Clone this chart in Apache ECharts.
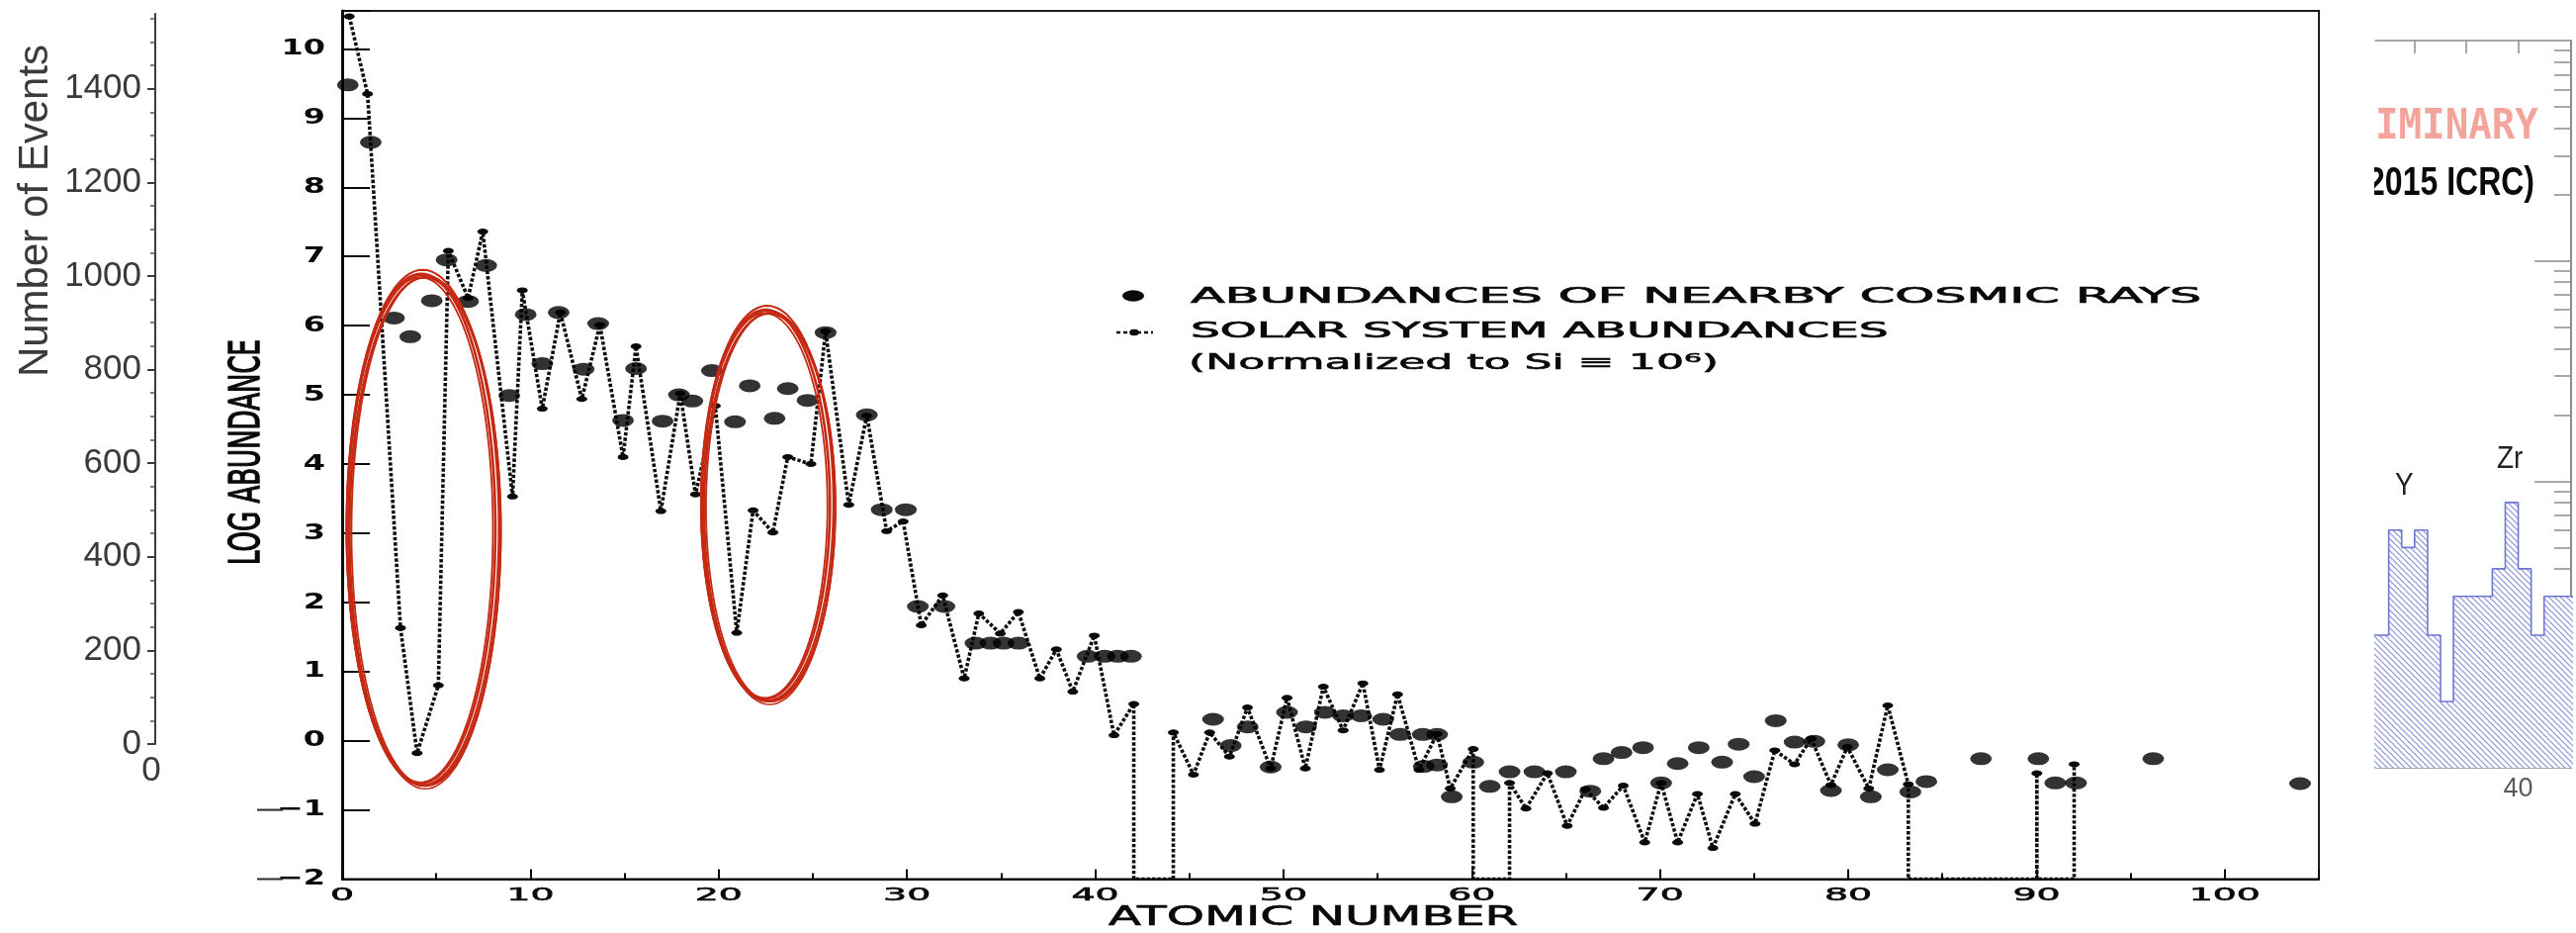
<!DOCTYPE html>
<html>
<head>
<meta charset="utf-8">
<title>Log abundance vs atomic number</title>
<script src="https://cdn.jsdelivr.net/npm/echarts@6/dist/echarts.min.js"></script>
<style>
  html, body { margin: 0; padding: 0; background: #ffffff; }
  #chart { width: 2605px; height: 943px; }
</style>
</head>
<body>
<div id="chart"></div>
<script>
// ---- Solar system abundances (log10, normalized to Si = 10^6), Z = 1..92; null = not plotted
const solarZ = [
  0.38, 1.35, 3.10, 3.98, 5.11, 5.64, 6.69, 7.47, 9.05, 9.57,
  10.63, 11.59, 12.73, 13.69, 14.92, 15.61, 16.93, 17.96, 18.77, 19.82,
  20.96, 21.83, 22.88, 23.67, 24.90, 25.68, 26.91, 27.87, 28.92, 29.80,
  30.76, 31.90, 33.04, 33.82, 34.96, 35.92, 37.06, 37.94, 38.81, 39.95,
  41.00, 42.05, null, 44.15, 45.22, 46.08, 47.13, 48.09, 49.32, 50.19,
  51.16, 52.12, 53.17, 54.22, 55.10, 56.06, 57.20, 58.16, 58.86, 60.08,
  null, 62.01, 62.88, 64.02, 65.07, 66.04, 67.00, 68.05, 69.19, 70.06,
  70.94, 71.99, 72.81, 74.00, 75.05, 76.10, 77.15, 78.03, 79.08, 79.95,
  81.09, 82.10, 83.19, null, null, null, null, null, null, 90.02,
  null, 92.00
];
const solarLog = [
  10.47, 9.35, 1.63, -0.18, 0.80, 7.08, 6.40, 7.36, 3.53, 6.51,
  4.80, 6.19, 4.94, 6.01, 4.10, 5.70, 3.32, 5.02, 3.56, 4.84,
  1.56, 3.33, 3.01, 4.10, 4.00, 5.92, 3.41, 4.70, 3.03, 3.17,
  1.67, 2.10, 0.90, 1.84, 1.55, 1.86, 0.90, 1.32, 0.71, 1.52,
  0.08, 0.53, null, 0.12, -0.49, 0.12, -0.23, 0.48, -0.40, 0.62,
  -0.40, 0.78, 0.15, 0.83, -0.42, 0.67, -0.42, 0.10, -0.69, -0.12,
  null, -0.61, -0.98, -0.47, -1.23, -0.70, -0.97, -0.65, -1.47, -0.61,
  -1.47, -0.77, -1.55, -0.77, -1.20, -0.14, -0.34, 0.03, -0.64, -0.09,
  -0.69, 0.51, -0.63, null, null, null, null, null, null, -0.47,
  null, -0.34
];

// ---- Abundances of nearby cosmic rays (log10)
const cosmicZ = [
  0.30, 1.52, 2.75, 3.62, 4.76, 5.55, 6.69, 7.65, 8.88, 9.75,
  10.63, 11.50, 12.82, 13.60, 14.92, 15.61, 17.02, 17.89, 18.60, 19.64,
  20.87, 21.65, 22.97, 23.67, 24.72, 25.68, 27.87, 28.66, 29.94, 30.58,
  31.99, 33.64, 34.44, 35.13, 35.92, 39.60, 40.50, 41.20, 41.90, 46.26,
  47.20, 48.10, 49.32, 50.19, 51.20, 52.20, 53.17, 54.13, 55.30, 56.20,
  57.40, 58.16, 57.45, 58.16, 58.94, 60.08, 60.96, 62.01, 63.33, 65.00,
  66.30, 67.00, 67.96, 69.10, 70.06, 70.94, 72.06, 73.30, 74.18, 75.00,
  76.15, 77.15, 78.20, 79.08, 80.00, 81.20, 82.10, 83.30, 84.15, 87.05,
  90.10, 91.00, 92.10, 96.20, 104.00
];
const cosmicLog = [
  9.48, 8.65, 6.11, 5.84, 6.36, 6.95, 6.35, 6.87, 4.99, 6.16,
  5.45, 6.19, 5.37, 6.03, 4.63, 5.38, 4.62, 5.00, 4.91, 5.35,
  4.61, 5.13, 4.66, 5.09, 4.92, 5.90, 4.71, 3.34, 3.34, 1.94,
  1.94, 1.41, 1.41, 1.41, 1.41, 1.22, 1.22, 1.22, 1.22, 0.31,
  -0.07, 0.20, -0.38, 0.41, 0.20, 0.41, 0.36, 0.36, 0.31, 0.09,
  0.09, 0.09, -0.37, -0.35, -0.81, -0.31, -0.66, -0.45, -0.45, -0.45,
  -0.73, -0.26, -0.17, -0.10, -0.61, -0.33, -0.10, -0.31, -0.05, -0.52,
  0.29, -0.02, -0.01, -0.72, -0.06, -0.81, -0.42, -0.74, -0.59, -0.26,
  -0.26, -0.61, -0.61, -0.26, -0.62
];

// ---- Hand-drawn rings: centre (Z, log), half width (Z), half height (log)
const ringZ = [4.2, 22.5];
const ringLog = [3.07, 3.42];
const ringHalfZ = [3.94, 3.41];
const ringHalfLog = [3.68, 2.81];

// ---- Axis tick labels
const zTicks = [0, 10, 20, 30, 40, 50, 60, 70, 80, 90, 100];
const zTickLabels = ['0', '10', '20', '30', '40', '50', '60', '70', '80', '90', '100'];
const logTicks = [-2, -1, 0, 1, 2, 3, 4, 5, 6, 7, 8, 9, 10];
const logTickLabels = ['\u22122', '\u22121', '0', '1', '2', '3', '4', '5', '6', '7', '8', '9', '10'];

// ---- Event-count axis (left panel)
const eventMajorTicks = [0, 200, 400, 600, 800, 1000, 1200, 1400];
const eventMinorTicks = [50, 100, 150, 250, 300, 350, 450, 500, 550, 650, 700, 750, 850, 900, 950,
  1050, 1100, 1150, 1250, 1300, 1350, 1450, 1500, 1550];

// ---- Charge histogram (right panel): bin starts and counts
const binStart = [37.0, 37.25, 37.5, 37.75, 38.0, 38.25, 38.5, 38.75, 39.0, 39.25, 39.5, 39.75, 40.0, 40.25, 40.5, 40.75, 41.0];
const binCount = [20, 20, 60, 50, 60, 20, 10, 30, 30, 30, 40, 80, 40, 20, 30, 30, 30];
const histMajorTicks = [10, 100, 1000];
const histMinorTicks = [6, 7, 8, 9, 20, 30, 40, 50, 60, 70, 80, 90, 200, 300, 400, 500, 600, 700, 800, 900,
  2000, 3000, 4000, 5000, 6000, 7000, 8000, 9000];
const histChargeTicks = [38, 39, 40];
const histChargeLabels = [40];
const peakNames = ['Y', 'Zr'];
const peakCharge = [37.8, 39.84];
const peakCount = [95, 126];

// ---------------------------------------------------------------
const LOG_MIN = -2;
const INK = '#0a0a0a';

// solar curve: missing elements drop to the bottom of the axis
const solarLine = [];
let lastZ = null;
let inGap = false;
for (let i = 0; i < solarZ.length; i++) {
  if (solarLog[i] === null) {
    if (!inGap && lastZ !== null) {
      solarLine.push({ value: [lastZ, LOG_MIN], symbol: 'none' });
    }
    inGap = true;
    continue;
  }
  if (inGap) {
    solarLine.push({ value: [solarZ[i], LOG_MIN], symbol: 'none' });
    inGap = false;
  }
  solarLine.push({ value: [solarZ[i], solarLog[i]] });
  lastZ = solarZ[i];
}

const cosmicData = cosmicZ.map((z, i) => [z, cosmicLog[i]]);
const ringData = ringZ.map((z, i) => [z, ringLog[i], ringHalfZ[i], ringHalfLog[i]]);

const histData = binStart.map((x, i) => [x, Math.log10(binCount[i])]);
histData.push([binStart[binStart.length - 1] + 0.25, Math.log10(binCount[binCount.length - 1])]);

function hatchPattern() {
  const n = 6;
  const cv = document.createElement('canvas');
  cv.width = n; cv.height = n;
  const c = cv.getContext('2d');
  c.fillStyle = '#ffffff';
  c.fillRect(0, 0, n, n);
  c.strokeStyle = '#8a93da';
  c.lineWidth = 1.2;
  c.beginPath();
  c.moveTo(-1, -1); c.lineTo(n + 1, n + 1);
  c.moveTo(-1, n - 1); c.lineTo(1, n + 1);
  c.moveTo(n - 1, -1); c.lineTo(n + 1, 1);
  c.stroke();
  return cv;
}

// several slightly offset strokes give the hand-drawn look
function ringItem(params, api) {
  const c = api.coord([api.value(0), api.value(1)]);
  const s = api.size([api.value(2), api.value(3)]);
  const passes = [
    [0, 0, 0, 0, 2.6],
    [1.5, -1, 2, 3, 2.0],
    [-1, 1.5, -1.5, -2, 1.8],
    [2.5, 2, 3, 1, 2.0],
    [3.5, 3, 1.5, -1, 2.0],
    [5, 3, 0.5, 0, 1.8],
    [4, 4.5, 1, 1.5, 1.6]
  ];
  const children = passes.map(p => {
    const pts = [];
    for (let k = 0; k <= 120; k++) {
      const t = k / 120 * Math.PI * 2;
      pts.push([c[0] + p[0] + (s[0] + p[2]) * Math.cos(t), c[1] + p[1] + (s[1] + p[3]) * Math.sin(t)]);
    }
    return { type: 'polyline', shape: { points: pts }, style: { stroke: '#c52a14', lineWidth: p[4], fill: null } };
  });
  return { type: 'group', children: children };
}

const HIST_GRAY = '#8c8c8c';

const option = {
  animation: false,
  backgroundColor: '#ffffff',
  grid: [
    { left: 157, top: 14, width: 1, bottom: 191 },
    { left: 346, right: 260, top: 11, bottom: 54.5, show: true, borderColor: '#1e1e1e', borderWidth: 2, backgroundColor: 'transparent' },
    { left: 2402, right: 5, top: 41, bottom: 167 }
  ],
  xAxis: [
    { gridIndex: 0, type: 'value', show: false, min: 0, max: 1 },
    {
      gridIndex: 1, type: 'value', min: 0, max: 105, interval: 10, z: 3,
      axisLine: { onZero: false, lineStyle: { color: INK, width: 2 } },
      axisTick: { inside: true, length: 10, lineStyle: { color: INK, width: 2 } },
      minorTick: { show: true, splitNumber: 2, length: 6, lineStyle: { color: INK, width: 2 } },
      axisLabel: { show: false }, splitLine: { show: false }
    },
    {
      gridIndex: 2, type: 'value', min: 37.24, max: 41.02, position: 'bottom',
      axisLine: { onZero: false, lineStyle: { color: HIST_GRAY, width: 1.5 } },
      axisTick: { inside: true, length: 13, customValues: histChargeTicks, lineStyle: { color: HIST_GRAY, width: 1.5 } },
      axisLabel: { customValues: histChargeLabels, fontSize: 27, fontFamily: 'Liberation Sans', color: '#5a5a5a', margin: 8 },
      splitLine: { show: false }
    },
    {
      gridIndex: 2, type: 'value', min: 37.24, max: 41.02, position: 'top',
      axisLine: { onZero: false, lineStyle: { color: HIST_GRAY, width: 1.5 } },
      axisTick: { inside: true, length: 13, customValues: histChargeTicks, lineStyle: { color: HIST_GRAY, width: 1.5 } },
      axisLabel: { show: false }, splitLine: { show: false }
    }
  ],
  yAxis: [
    {
      gridIndex: 0, type: 'value', min: 0, max: 1560, position: 'left',
      axisLine: { show: true, lineStyle: { color: '#3c3c3c', width: 2 } },
      axisTick: { show: true, inside: false, length: 8, customValues: eventMajorTicks, lineStyle: { color: '#3c3c3c', width: 2 } },
      axisLabel: {
        customValues: eventMajorTicks, fontSize: 35, fontFamily: 'Liberation Sans', color: '#3a3a3a', margin: 14,
        formatter: v => String(v)
      },
      splitLine: { show: false }
    },
    {
      gridIndex: 0, type: 'value', min: 0, max: 1560, position: 'left', offset: 0,
      axisLine: { show: false },
      axisTick: { show: true, inside: false, length: 5, customValues: eventMinorTicks, lineStyle: { color: '#555555', width: 1.5 } },
      axisLabel: { show: false }, splitLine: { show: false }
    },
    {
      gridIndex: 1, type: 'value', min: LOG_MIN, max: 10.55, interval: 1, z: 3,
      axisLine: { onZero: false, lineStyle: { color: INK, width: 3 } },
      axisTick: { inside: true, length: 28, lineStyle: { color: INK, width: 2 } },
      axisLabel: { show: false }, splitLine: { show: false }
    },
    {
      gridIndex: 2, type: 'value', min: Math.log10(5), max: 4, position: 'right',
      axisLine: { show: true, onZero: false, lineStyle: { color: HIST_GRAY, width: 2 } },
      axisTick: { inside: true, length: 37, customValues: histMajorTicks.map(Math.log10), lineStyle: { color: HIST_GRAY, width: 1.5 } },
      axisLabel: { show: false }, splitLine: { show: false }
    },
    {
      gridIndex: 2, type: 'value', min: Math.log10(5), max: 4, position: 'right', offset: 0,
      axisLine: { show: false },
      axisTick: { inside: true, length: 17, customValues: histMinorTicks.map(Math.log10), lineStyle: { color: HIST_GRAY, width: 1.5 } },
      axisLabel: { show: false }, splitLine: { show: false }
    }
  ],
  series: [
    {
      name: 'SOLAR SYSTEM ABUNDANCES', type: 'line', xAxisIndex: 1, yAxisIndex: 2, z: 4,
      data: solarLine, symbol: 'circle', symbolSize: [11, 6],
      itemStyle: { color: INK },
      lineStyle: { color: '#0d0d0d', width: 3.6, type: [3.4, 2.0] }
    },
    {
      name: 'ABUNDANCES OF NEARBY COSMIC RAYS', type: 'scatter', xAxisIndex: 1, yAxisIndex: 2, z: 5,
      data: cosmicData, symbol: 'circle', symbolSize: [22, 13],
      itemStyle: { color: '#000000' }
    },
    {
      type: 'custom', xAxisIndex: 1, yAxisIndex: 2, z: 6, clip: false,
      data: ringData, renderItem: ringItem
    },
    {
      type: 'line', xAxisIndex: 2, yAxisIndex: 3, z: 3,
      data: histData, step: 'end', symbol: 'none',
      lineStyle: { color: '#6d76d2', width: 1.6 },
      areaStyle: { color: { image: hatchPattern(), repeat: 'repeat' }, origin: 'start', opacity: 1 }
    }
  ]
};

const chart = echarts.init(document.getElementById('chart'), null, { renderer: 'canvas' });
chart.setOption(option);

// ---- Text drawn on top, placed through the chart's own axes
const gfx = [];
function txt(x, y, text, o) {
  const style = {
    text: text, fontSize: o.size, fontFamily: o.family || 'DejaVu Sans',
    fontWeight: o.weight || 'normal', fill: o.fill || INK,
    align: o.align || 'left', verticalAlign: 'middle'
  };
  if (o.heavy) { style.stroke = o.fill || INK; style.lineWidth = o.heavy; }
  gfx.push({
    type: 'text', x: x, y: y, z: o.z || 10,
    scaleX: o.scaleX || 1, scaleY: o.scaleY || 1, rotation: o.rotation || 0,
    style: style
  });
}

zTicks.forEach((v, i) => {
  const p = chart.convertToPixel({ gridIndex: 1 }, [v, LOG_MIN]);
  txt(p[0], p[1] + 17, zTickLabels[i], { size: 18, scaleX: 2.1, align: 'center', heavy: 0.6 });
});
logTicks.forEach((v, i) => {
  const p = chart.convertToPixel({ gridIndex: 1 }, [0, v]);
  txt(p[0] - 17, p[1], logTickLabels[i], { size: 22, weight: 'bold', scaleX: 1.45, align: 'right' });
  if (v < 0) {
    gfx.push({ type: 'line', z: 10, shape: { x1: p[0] - 86, y1: p[1], x2: p[0] - 60, y2: p[1] }, style: { stroke: '#2a2a2a', lineWidth: 2 } });
  }
});

// axis titles
txt(1328, 928, 'ATOMIC NUMBER', { size: 27, scaleX: 1.8, align: 'center', heavy: 0.6 });
txt(251, 457, 'LOG ABUNDANCE', { size: 26, scaleY: 1.65, rotation: Math.PI / 2, align: 'center', heavy: 0.9 });
txt(36, 213, 'Number of Events', { size: 42, family: 'Liberation Sans', fill: '#3b3b3b', rotation: Math.PI / 2, align: 'center' });

// clipped "0" under the event axis
txt(153, 779, '0', { size: 35, family: 'Liberation Sans', fill: '#3b3b3b', align: 'center', z: 0 });
gfx.push({ type: 'rect', z: 1, shape: { x: 158, y: 758, width: 22, height: 44 }, style: { fill: '#ffffff' } });

// legend
gfx.push({ type: 'circle', x: 1146, y: 299, scaleX: 1.9, z: 10, shape: { cx: 0, cy: 0, r: 5.8 }, style: { fill: INK } });
gfx.push({ type: 'line', z: 10, shape: { x1: 1129, y1: 336, x2: 1166, y2: 336 }, style: { stroke: INK, lineWidth: 2.6, lineDash: [4, 3] } });
gfx.push({ type: 'circle', x: 1147, y: 336, scaleX: 1.5, z: 10, shape: { cx: 0, cy: 0, r: 3.2 }, style: { fill: INK } });
txt(1204, 301, 'ABUNDANCES OF NEARBY COSMIC RAYS', { size: 21, scaleX: 2.42, heavy: 0.7 });
txt(1204, 336, 'SOLAR SYSTEM ABUNDANCES', { size: 21, scaleX: 2.24, heavy: 0.7 });
txt(1202, 368, '(Normalized to Si \u2261 10\u2076)', { size: 21, scaleX: 2.1, heavy: 0.6 });

// right panel annotations
peakNames.forEach((name, i) => {
  const p = chart.convertToPixel({ xAxisIndex: 2, yAxisIndex: 3 }, [peakCharge[i], Math.log10(peakCount[i])]);
  txt(p[0], p[1], name, { size: 31, family: 'Liberation Sans', fill: '#222222', align: 'center', scaleX: 0.9 });
});
txt(2402, 129, 'IMINARY', { size: 43, family: 'DejaVu Sans Mono', weight: 'bold', fill: '#f4a59b', scaleX: 0.91 });
txt(2563, 186, '2015 ICRC)', { size: 40, family: 'Liberation Sans', weight: 'bold', fill: '#0a0a0a', align: 'right', scaleX: 0.8, z: 10 });
gfx.push({ type: 'rect', z: 11, shape: { x: 2370, y: 160, width: 31, height: 52 }, style: { fill: '#ffffff' } });

chart.setOption({ graphic: { elements: gfx } });
</script>
</body>
</html>
